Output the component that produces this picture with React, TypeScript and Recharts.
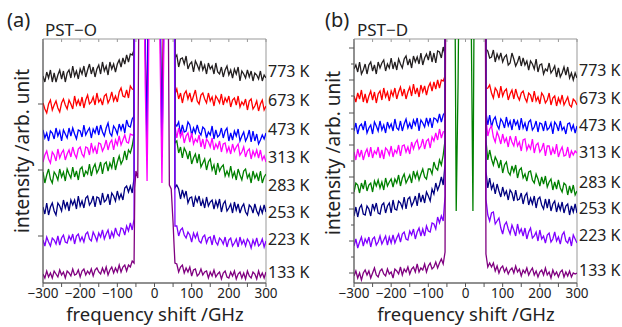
import React from 'react';
import { LineChart, Line, XAxis, YAxis, ReferenceArea } from 'recharts';

// sampling grid of the spectra (GHz)
const xLeft = [
  -300, -295, -290, -285, -280, -275, -270, -265, -260, -255,
  -250, -245, -240, -235, -230, -225, -220, -215, -210, -205,
  -200, -195, -190, -185, -180, -175, -170, -165, -160, -155,
  -150, -145, -140, -135, -130, -125, -120, -115, -110, -105,
  -100, -95, -90, -85, -80, -75, -70, -65, -60, -55,
];
const xCenter = [-53, -50, -45, -40, -35, -30, -25, -20, -15, -10, 0, 10, 15, 20, 25, 30, 35, 40, 45, 50, 53];
const xRight = [
  55, 60, 65, 70, 75, 80, 85, 90, 95, 100,
  105, 110, 115, 120, 125, 130, 135, 140, 145, 150,
  155, 160, 165, 170, 175, 180, 185, 190, 195, 200,
  205, 210, 215, 220, 225, 230, 235, 240, 245, 250,
  255, 260, 265, 270, 275, 280, 285, 290, 295, 300,
];

const xTicks = [-300, -250, -200, -150, -100, -50, 0, 50, 100, 150, 200, 250, 300];
const tempLabels = ['773 K', '673 K', '473 K', '313 K', '283 K', '253 K', '223 K', '133 K'];
const traceColors = ['#231f20', '#ff0000', '#0000ff', '#ff00ff', '#008000', '#000080', '#8000ff', '#800080'];

// Brillouin peaks run off the top of the frame
const flatTop = [400, 400, 400, 400, 400, 400, 400, 400, 400, 400, 400, 400, 400, 400, 400, 400, 400, 400, 400, 400, 400];

// ---- PST-O (offset intensity, arb. unit) ----
const o773L = [
  207, 201, 211, 205, 213, 201, 210, 201, 208, 213,
  204, 212, 201, 210, 213, 205, 217, 207, 212, 204,
  214, 209, 217, 206, 213, 219, 209, 216, 206, 214,
  218, 209, 221, 212, 217, 208, 221, 214, 219, 211,
  219, 223, 216, 225, 219, 228, 221, 229, 228, 233,
];
const o773R = [
  225, 228, 216, 224, 225, 219, 227, 214, 219, 221,
  211, 222, 218, 213, 222, 213, 218, 209, 220, 214,
  217, 209, 220, 211, 209, 216, 206, 213, 217, 208,
  213, 205, 214, 209, 216, 202, 212, 209, 205, 213,
  206, 212, 202, 210, 208, 204, 212, 202, 208, 205,
];
const o673L = [
  180, 174, 170, 179, 183, 173, 178, 182, 175, 171,
  180, 184, 178, 174, 183, 179, 174, 187, 178, 183,
  177, 186, 175, 183, 188, 179, 181, 186, 178, 190,
  181, 184, 178, 187, 189, 180, 184, 191, 182, 187,
  181, 191, 195, 187, 186, 193, 185, 197, 194, 193,
];
const o673C = [400, 400, 400, 400, 400, 400, 230, 155, 400, 400, 400, 400, 260, 153, 300, 400, 400, 400, 400, 400, 400];
const o673R = [
  189, 194, 184, 190, 180, 189, 192, 184, 190, 181,
  187, 193, 182, 179, 188, 190, 184, 180, 190, 182,
  186, 177, 187, 184, 180, 189, 178, 185, 181, 187,
  176, 183, 185, 178, 187, 176, 181, 178, 184, 173,
  182, 184, 174, 177, 182, 172, 179, 183, 173, 177,
];
const o473L = [
  153, 145, 150, 142, 152, 150, 144, 155, 147, 152,
  142, 153, 149, 145, 155, 147, 155, 149, 144, 153,
  152, 146, 158, 148, 152, 155, 145, 154, 150, 157,
  148, 158, 151, 147, 155, 160, 150, 147, 157, 154,
  149, 159, 153, 159, 150, 163, 157, 156, 164, 167,
];
const o473C = [400, 400, 400, 400, 400, 400, 250, 128, 400, 400, 400, 400, 300, 126, 260, 400, 400, 400, 400, 400, 400];
const o473R = [
  159, 157, 161, 149, 158, 151, 152, 161, 158, 148,
  155, 150, 158, 151, 148, 156, 154, 145, 151, 148,
  157, 144, 153, 146, 148, 155, 145, 152, 155, 142,
  150, 143, 152, 147, 154, 142, 147, 151, 142, 146,
  153, 141, 152, 142, 149, 139, 143, 148, 144, 150,
];
const o313L = [
  121, 128, 132, 124, 120, 131, 128, 122, 134, 125,
  130, 133, 123, 129, 133, 126, 136, 129, 125, 134,
  136, 129, 126, 136, 135, 128, 140, 131, 136, 129,
  140, 139, 132, 136, 143, 133, 140, 143, 133, 143,
  138, 147, 138, 143, 148, 141, 140, 149, 148, 148,
];
const o313C = [400, 400, 400, 400, 400, 400, 200, 102, 250, 400, 400, 400, 230, 100, 230, 400, 400, 400, 400, 400, 400];
const o313R = [
  157, 145, 155, 146, 151, 140, 147, 150, 141, 150,
  139, 144, 141, 148, 136, 144, 134, 144, 141, 136,
  145, 133, 139, 135, 142, 131, 139, 140, 131, 136,
  129, 139, 132, 136, 139, 128, 131, 136, 126, 132,
  134, 124, 132, 127, 133, 125, 133, 123, 127, 121,
];
const o283L = [
  111, 100, 108, 114, 104, 100, 111, 108, 103, 114,
  106, 111, 102, 114, 109, 105, 116, 106, 112, 103,
  114, 116, 106, 112, 109, 119, 107, 115, 119, 110,
  114, 121, 109, 119, 121, 112, 120, 115, 126, 113,
  121, 127, 119, 123, 132, 123, 133, 130, 137, 148,
];
const o283R = [
  140, 142, 130, 136, 125, 135, 131, 124, 132, 119,
  125, 129, 120, 129, 116, 120, 124, 113, 121, 124,
  113, 118, 108, 120, 112, 116, 118, 107, 112, 107,
  117, 106, 111, 103, 114, 108, 103, 112, 114, 105,
  109, 100, 112, 105, 109, 102, 112, 100, 106, 109,
];
const o253L = [
  76, 69, 80, 68, 76, 80, 72, 68, 80, 77,
  72, 83, 75, 81, 72, 83, 78, 83, 74, 87,
  77, 82, 75, 85, 87, 78, 81, 87, 76, 86,
  85, 78, 90, 81, 83, 89, 78, 90, 87, 82,
  92, 84, 89, 83, 95, 97, 91, 97, 90, 105,
];
const o253R = [
  95, 98, 94, 84, 93, 86, 92, 80, 85, 86,
  76, 86, 81, 87, 77, 83, 75, 86, 77, 81,
  83, 74, 82, 76, 84, 71, 79, 82, 72, 75,
  79, 70, 81, 73, 79, 70, 76, 79, 71, 68,
  78, 76, 70, 79, 72, 68, 76, 70, 78, 71,
];
const o223L = [
  43, 37, 46, 41, 37, 45, 43, 39, 47, 38,
  45, 48, 41, 40, 47, 43, 49, 39, 47, 49,
  42, 46, 41, 49, 51, 44, 42, 51, 47, 42,
  50, 46, 53, 44, 49, 53, 44, 51, 46, 55,
  49, 47, 55, 54, 48, 57, 52, 60, 53, 64,
];
const o223R = [
  57, 57, 47, 53, 55, 48, 45, 51, 48, 41,
  50, 45, 50, 42, 40, 46, 48, 40, 45, 46,
  38, 48, 41, 38, 45, 43, 39, 46, 36, 43,
  45, 37, 40, 44, 36, 46, 39, 43, 37, 44,
  41, 35, 43, 38, 45, 37, 39, 44, 36, 42,
];
const o133L = [
  9, 5, 12, 6, 10, 5, 12, 9, 6, 13,
  8, 11, 5, 12, 10, 7, 14, 8, 9, 13,
  6, 12, 14, 8, 12, 9, 14, 7, 13, 15,
  11, 9, 15, 10, 16, 8, 13, 16, 10, 15,
  11, 18, 11, 16, 18, 12, 18, 16, 22, 20,
];
const o133C = [95, 112, 105, 400, 400, 400, 400, 400, 400, 400, 400, 400, 400, 400, 400, 400, 400, 98, 94, 60, 35];
const o133R = [
  20, 19, 11, 16, 18, 10, 15, 11, 16, 7,
  13, 14, 7, 9, 14, 8, 11, 12, 5, 11,
  7, 13, 6, 9, 11, 4, 10, 12, 6, 5,
  11, 7, 12, 4, 9, 11, 5, 10, 4, 12,
  7, 5, 11, 9, 4, 12, 6, 10, 5, 11,
];

// ---- PST-D ----
const d773L = [
  214, 218, 211, 221, 209, 213, 219, 209, 218, 221,
  212, 218, 209, 221, 215, 220, 223, 212, 219, 215,
  225, 214, 221, 213, 224, 219, 215, 224, 227, 218,
  224, 215, 227, 221, 226, 219, 230, 218, 225, 229,
  223, 232, 221, 230, 220, 232, 231, 225, 236, 228,
];
const d773R = [
  234, 232, 225, 226, 233, 221, 229, 224, 230, 221,
  226, 228, 218, 220, 230, 224, 217, 221, 227, 217,
  225, 218, 222, 213, 222, 219, 214, 224, 211, 218,
  219, 209, 214, 212, 220, 210, 213, 217, 206, 215,
  206, 210, 216, 208, 216, 205, 210, 203, 210, 205,
];
const d673L = [
  187, 181, 190, 184, 193, 181, 189, 180, 187, 192,
  183, 191, 180, 189, 192, 183, 195, 186, 191, 182,
  192, 187, 195, 184, 191, 196, 187, 194, 184, 191,
  196, 187, 199, 189, 195, 186, 198, 191, 197, 188,
  196, 200, 192, 201, 194, 203, 195, 203, 202, 207,
];
const d673R = [
  194, 195, 198, 190, 185, 195, 192, 185, 197, 187,
  192, 194, 183, 189, 193, 184, 194, 187, 183, 190,
  192, 185, 181, 190, 188, 181, 192, 182, 186, 179,
  190, 187, 180, 183, 190, 178, 185, 187, 177, 185,
  180, 188, 178, 182, 186, 178, 176, 184, 182, 178,
];
const d473L = [
  152, 160, 149, 157, 159, 153, 162, 150, 155, 158,
  149, 161, 157, 152, 162, 153, 158, 150, 161, 155,
  159, 152, 164, 155, 153, 162, 152, 159, 164, 155,
  160, 154, 163, 158, 165, 152, 163, 160, 156, 165,
  158, 165, 155, 165, 164, 161, 169, 161, 168, 171,
];
const d473R = [
  171, 158, 168, 156, 163, 166, 158, 154, 164, 161,
  155, 166, 157, 162, 153, 164, 158, 162, 153, 165,
  155, 160, 152, 161, 163, 153, 156, 162, 151, 160,
  159, 152, 162, 153, 155, 160, 149, 161, 158, 152,
  162, 153, 156, 149, 159, 160, 153, 158, 150, 157,
];
const d313L = [
  131, 123, 134, 126, 133, 123, 130, 134, 126, 136,
  125, 132, 129, 136, 125, 133, 124, 135, 133, 128,
  137, 126, 133, 130, 138, 127, 137, 138, 131, 136,
  129, 141, 134, 140, 143, 134, 137, 144, 134, 142,
  144, 135, 146, 142, 150, 143, 154, 145, 151, 152,
];
const d313R = [
  165, 147, 154, 157, 146, 141, 151, 146, 139, 149,
  141, 145, 136, 147, 141, 137, 147, 137, 141, 132,
  143, 144, 133, 138, 134, 144, 130, 138, 140, 131,
  134, 140, 127, 137, 137, 128, 135, 129, 139, 126,
  132, 136, 127, 128, 136, 125, 132, 128, 132, 130,
];
const d283L = [
  91, 100, 98, 90, 100, 94, 103, 92, 98, 100,
  91, 102, 97, 103, 95, 101, 93, 105, 97, 101,
  104, 96, 104, 100, 108, 97, 105, 109, 100, 104,
  108, 100, 112, 105, 111, 103, 109, 114, 106, 104,
  114, 114, 109, 121, 115, 113, 123, 118, 128, 143,
];
const d283C = [400, 400, 400, 400, 400, 400, 72, 200, 400, 400, 400, 400, 280, 72, 400, 400, 400, 400, 400, 400, 400];
const d283R = [
  143, 123, 133, 124, 118, 126, 122, 115, 123, 110,
  118, 121, 111, 108, 117, 111, 118, 105, 113, 115,
  105, 109, 102, 111, 112, 103, 100, 109, 104, 97,
  106, 99, 107, 96, 101, 104, 93, 101, 94, 103,
  95, 91, 100, 98, 88, 97, 90, 98, 88, 92,
];
const d253L = [
  67, 76, 66, 75, 78, 69, 68, 77, 74, 67,
  79, 73, 80, 70, 69, 78, 80, 70, 77, 80,
  70, 83, 74, 73, 82, 80, 75, 86, 74, 84,
  86, 77, 81, 87, 77, 90, 81, 88, 80, 91,
  87, 82, 94, 89, 100, 93, 98, 106, 98, 119,
];
const d253R = [
  112, 95, 105, 94, 99, 89, 99, 92, 86, 96,
  88, 92, 83, 93, 90, 82, 93, 83, 84, 90,
  79, 87, 90, 78, 85, 79, 87, 75, 84, 86,
  78, 74, 84, 75, 84, 72, 79, 82, 71, 79,
  73, 81, 70, 77, 79, 68, 77, 71, 79, 70,
];
const d223L = [
  37, 44, 35, 41, 46, 37, 44, 40, 46, 36,
  44, 46, 38, 41, 47, 39, 43, 47, 38, 46,
  40, 48, 40, 45, 49, 41, 49, 51, 44, 43,
  52, 48, 54, 44, 51, 55, 47, 54, 47, 57,
  52, 51, 60, 59, 54, 66, 60, 67, 62, 87,
];
const d223R = [
  84, 68, 62, 70, 71, 59, 62, 65, 55, 49,
  58, 61, 54, 49, 58, 53, 47, 59, 50, 54,
  47, 55, 44, 51, 55, 45, 47, 51, 42, 53,
  44, 47, 40, 48, 50, 41, 44, 51, 42, 46,
  39, 48, 51, 42, 40, 46, 37, 48, 44, 40,
];
const d133L = [
  7, 12, 5, 10, 3, 10, 13, 8, 12, 5,
  10, 15, 8, 6, 12, 14, 9, 7, 14, 9,
  11, 5, 14, 12, 9, 16, 8, 14, 11, 16,
  9, 14, 16, 11, 19, 11, 15, 13, 19, 11,
  17, 20, 14, 16, 21, 15, 20, 24, 19, 31,
];
const d133R = [
  29, 16, 20, 16, 20, 12, 17, 10, 15, 17,
  11, 15, 9, 13, 15, 10, 17, 11, 14, 7,
  13, 10, 15, 8, 12, 15, 8, 12, 6, 11,
  13, 8, 15, 8, 11, 5, 13, 8, 11, 6,
  11, 13, 6, 11, 7, 12, 6, 10, 9, 10,
];

const yMajorO = [47, 113, 179];
const yMinorO: number[] = [];
const yMajorD = [10, 42, 74, 106, 138, 170, 203, 235];
const yMinorD = [26, 58, 90, 122, 154, 187, 219];

type Pt = { x: number; y: number };
const toPoints = (l: number[], c: number[], r: number[]): Pt[] => [
  ...xLeft.map((x, i) => ({ x, y: l[i] })),
  ...xCenter.map((x, i) => ({ x, y: c[i] })),
  ...xRight.map((x, i) => ({ x, y: r[i] })),
];

const tracesO = [
  toPoints(o773L, flatTop, o773R),
  toPoints(o673L, o673C, o673R),
  toPoints(o473L, o473C, o473R),
  toPoints(o313L, o313C, o313R),
  toPoints(o283L, flatTop, o283R),
  toPoints(o253L, flatTop, o253R),
  toPoints(o223L, flatTop, o223R),
  toPoints(o133L, o133C, o133R),
];
const tracesD = [
  toPoints(d773L, flatTop, d773R),
  toPoints(d673L, flatTop, d673R),
  toPoints(d473L, flatTop, d473R),
  toPoints(d313L, flatTop, d313R),
  toPoints(d283L, d283C, d283R),
  toPoints(d253L, flatTop, d253R),
  toPoints(d223L, flatTop, d223R),
  toPoints(d133L, flatTop, d133R),
];

const FONT = "'Noto Sans', 'DejaVu Sans', sans-serif";
const TEXT = '#222';
const CW = 311;
const CH = 327;
const PL = 43;
const PT = 39;
const PW = 223;
const PH = 244;
const PB = PT + PH;
const X_AXIS_H = 30;
const Y_AXIS_W = 20;

const fmt = (v: number) => (v < 0 ? '\u2212' + Math.abs(v) : String(v));

const XTick = (props: any) => {
  const { payload } = props;
  const cx = payload.coordinate;
  const v = payload.value;
  return (
    <g>
      <line x1={cx} y1={PB} x2={cx} y2={PB + 4} stroke="#555" />
      <line x1={cx} y1={PT} x2={cx} y2={PT + 3} stroke="#999" />
      {v % 100 === 0 && (
        <text x={cx} y={PB + 14.5} textAnchor="middle" fontSize={13.5} fill={TEXT} fontFamily={FONT}>
          {fmt(v)}
        </text>
      )}
    </g>
  );
};

const makeYTick = (major: number[]) => (props: any) => {
  const { payload } = props;
  const cy = payload.coordinate;
  const len = major.includes(payload.value) ? 5 : 3;
  return <line x1={PL - len} y1={cy} x2={PL} y2={cy} stroke="#555" />;
};

const Panel = ({ traces, yMajor, yMinor }: { traces: Pt[][]; yMajor: number[]; yMinor: number[] }) => (
  <LineChart
    width={CW}
    height={CH}
    margin={{ top: PT, right: CW - PL - PW, bottom: CH - PB - X_AXIS_H, left: PL - Y_AXIS_W }}
  >
    <XAxis
      dataKey="x"
      type="number"
      domain={[-300, 300]}
      ticks={xTicks}
      interval={0}
      allowDataOverflow
      height={X_AXIS_H}
      tickLine={false}
      axisLine={{ stroke: '#555' }}
      tick={XTick}
    />
    <YAxis
      type="number"
      domain={[0, 244]}
      ticks={[...yMajor, ...yMinor].sort((a, b) => a - b)}
      interval={0}
      allowDataOverflow
      width={Y_AXIS_W}
      tickLine={false}
      axisLine={{ stroke: '#555' }}
      tick={makeYTick(yMajor)}
    />
    <ReferenceArea x1={-300} x2={300} y1={0} y2={244} fill="none" stroke="#999" strokeWidth={1} ifOverflow="visible" />
    {traces.map((pts, i) => (
      <Line
        key={tempLabels[i]}
        data={pts}
        dataKey="y"
        type="linear"
        stroke={traceColors[i]}
        strokeWidth={1.3}
        dot={false}
        activeDot={false}
        isAnimationActive={false}
      />
    ))}
  </LineChart>
);

const tempYO = [71, 100, 129, 157, 185, 212, 239, 272];
const tempYD = [70, 98, 125, 152, 182, 208, 235, 270];

export default function App() {
  return (
    <div style={{ position: 'absolute', left: 0, top: 0, width: 622, height: 327, background: '#fff', overflow: 'hidden' }}>
      <div style={{ position: 'absolute', left: 0, top: 0 }}>
        <Panel traces={tracesO} yMajor={yMajorO} yMinor={yMinorO} />
      </div>
      <div style={{ position: 'absolute', left: 311, top: 0 }}>
        <Panel traces={tracesD} yMajor={yMajorD} yMinor={yMinorD} />
      </div>
      <svg width={622} height={327} style={{ position: 'absolute', left: 0, top: 0, pointerEvents: 'none' }} fontFamily={FONT} fill={TEXT}>
        <text x={7} y={27} fontSize={20}>(a)</text>
        <text x={45} y={36} fontSize={17}>PST{'\u2212'}O</text>
        <text x={325} y={27} fontSize={20}>(b)</text>
        <text x={357} y={36} fontSize={17}>PST{'\u2212'}D</text>
        <text x={155} y={321} fontSize={18.5} textAnchor="middle">frequency shift /GHz</text>
        <text x={466} y={321} fontSize={18.5} textAnchor="middle">frequency shift /GHz</text>
        <text transform="translate(29,151) rotate(-90)" fontSize={19} textAnchor="middle">intensity /arb. unit</text>
        <text transform="translate(340,153) rotate(-90)" fontSize={19} textAnchor="middle">intensity /arb. unit</text>
        {tempLabels.map((t, i) => (
          <text key={'o' + t} x={268} y={tempYO[i]} fontSize={16} dominantBaseline="central">{t}</text>
        ))}
        {tempLabels.map((t, i) => (
          <text key={'d' + t} x={579} y={tempYD[i]} fontSize={16} dominantBaseline="central">{t}</text>
        ))}
      </svg>
    </div>
  );
}
